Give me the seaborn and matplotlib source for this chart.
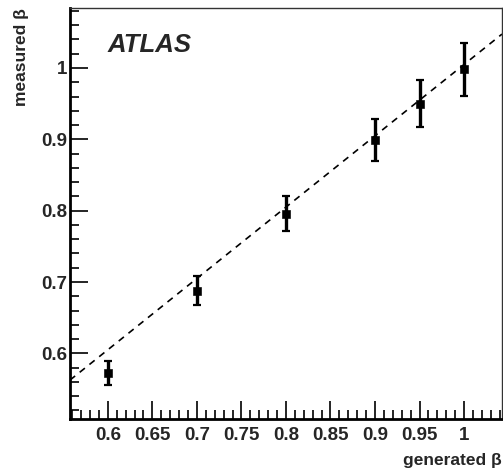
import numpy as np
import pandas as pd
import matplotlib
matplotlib.use("Agg")
import matplotlib.pyplot as plt
from matplotlib.ticker import MultipleLocator, FixedLocator
import seaborn as sns

# generated vs measured beta
generated = [0.6, 0.7, 0.8, 0.9, 0.95, 1.0]
measured = [0.572, 0.688, 0.796, 0.899, 0.950, 0.998]
errors = [0.017, 0.020, 0.024, 0.030, 0.033, 0.037]

# dashed straight-line fit
fit_slope = 1.0
fit_offset = 0.005

x_ticks = [0.6, 0.65, 0.7, 0.75, 0.8, 0.85, 0.9, 0.95, 1.0]
x_tick_labels = ["0.6", "0.65", "0.7", "0.75", "0.8", "0.85", "0.9", "0.95", "1"]
y_ticks = [0.6, 0.7, 0.8, 0.9, 1.0]
y_tick_labels = ["0.6", "0.7", "0.8", "0.9", "1"]

sns.set_style("ticks")
plt.rcParams['font.family'] = ['Liberation Sans', 'DejaVu Sans']

df = pd.DataFrame({"generated": generated, "measured": measured, "err": errors})

fig = plt.figure(figsize=(5.03, 4.74), dpi=100)
ax = fig.add_axes([0.139, 0.116, 0.859, 0.867])

xlim = (0.5575, 1.0425)
ylim = (0.508, 1.084)

# fit line across the whole frame
line_x = np.array(xlim)
line_df = pd.DataFrame({"x": line_x, "y": fit_slope * line_x + fit_offset})
sns.lineplot(data=line_df, x="x", y="y", ax=ax, color="black", lw=1.2,
             linestyle=(0, (4, 3.5)), legend=False)

ax.errorbar(df["generated"], df["measured"], yerr=df["err"], fmt="none",
            ecolor="black", elinewidth=2.4, capsize=3, capthick=1.6, zorder=3)
sns.scatterplot(data=df, x="generated", y="measured", ax=ax, marker="s",
                s=30, color="black", edgecolor="black", zorder=4, legend=False)

ax.set_xlim(*xlim)
ax.set_ylim(*ylim)

ax.xaxis.set_major_locator(FixedLocator(x_ticks))
ax.set_xticklabels(x_tick_labels)
ax.xaxis.set_minor_locator(MultipleLocator(0.01))
ax.yaxis.set_major_locator(FixedLocator(y_ticks))
ax.set_yticklabels(y_tick_labels)
ax.yaxis.set_minor_locator(MultipleLocator(0.02))

ax.tick_params(which="both", direction="in", top=False, right=False, width=1.2, color="black")
ax.tick_params(which="major", length=13, labelsize=13.5)
ax.tick_params(axis="x", which="major", pad=6)
ax.tick_params(axis="y", which="major", pad=2)
ax.tick_params(which="minor", length=6.5)
for lab in ax.get_xticklabels() + ax.get_yticklabels():
    lab.set_fontweight("bold")

for side in ["left", "bottom"]:
    ax.spines[side].set_linewidth(2)
    ax.spines[side].set_color("black")
for side in ["top", "right"]:
    ax.spines[side].set_visible(True)
    ax.spines[side].set_linewidth(1)
    ax.spines[side].set_color("#333333")

ax.set_xlabel("generated β", fontsize=12.5, fontweight="bold", loc="right")
ax.xaxis.set_label_coords(1.0, -0.083)
ax.set_ylabel("measured β", fontsize=12.5, fontweight="bold", loc="top")
ax.yaxis.set_label_coords(-0.095, 1.0)

ax.text(0.086, 0.893, "ATLAS", transform=ax.transAxes, fontsize=18.5,
        fontweight="bold", fontstyle="italic", ha="left", va="baseline")

fig.savefig("out.png", dpi=100)
